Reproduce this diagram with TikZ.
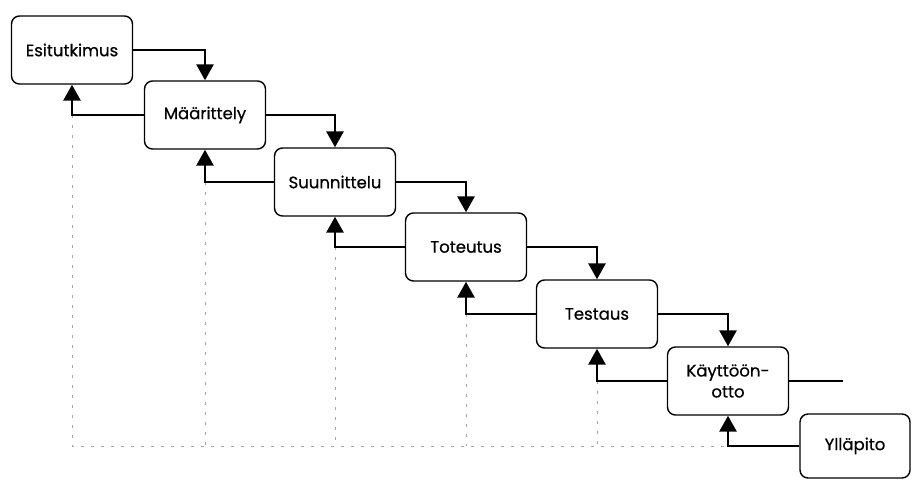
\documentclass[tikz,border=0pt]{standalone}
\usepackage{fontspec}
\setmainfont{Poppins}[FakeBold=0.6]
\usetikzlibrary{arrows.meta}
\tikzset{
  phase/.style={draw, rounded corners=8pt, line width=1.4pt,
    minimum width=121pt, minimum height=68pt, align=center,
    font=\fontsize{16.5}{21}\selectfont},
  flow/.style={line width=2.8pt, -{Triangle[width=17pt,length=16pt]}},
  feedback/.style={gray!70, line width=0.9pt, dash pattern=on 3pt off 7pt}
}
\begin{document}
\begin{tikzpicture}[x=1pt,y=-1pt]
      \useasboundingbox (0,0) rectangle (912,480);
      \draw
        (72,50) node[phase] (1){Esitutkimus}
        (205,115) node[phase] (2){Määrittely}
        (335,182) node[phase] (3){Suunnittelu}
        (466,247) node[phase] (4){Toteutus}
        (597,314) node[phase] (5){Testaus}
        (728,381) node[phase] (6){Käyttöön-\\otto}
        (855,446) node[phase, minimum width=110pt, minimum height=64pt] (7){Ylläpito};
      \coordinate (end) at (843,381);
      \coordinate (base) at (0,446);
      % feedback to every phase
      \begin{scope}[feedback]
        \draw (1.south |- 2.west) -- (1.south |- base) -- (6.south |- base);
        \draw (2.south |- 3.west) -- (2.south |- base);
        \draw (3.south |- 4.west) -- (3.south |- base);
        \draw (4.south |- 5.west) -- (4.south |- base);
        \draw (5.south |- 6.west) -- (5.south |- base);
      \end{scope}
      \begin{scope}[flow]
        \draw (1.east) -| (2.north);
        \draw (2.east) -| (3.north);
        \draw (3.east) -| (4.north);
        \draw (4.east) -| (5.north);
        \draw (5.east) -| (6.north);
        \draw (2.west) -| (1.south);
        \draw (3.west) -| (2.south);
        \draw (4.west) -| (3.south);
        \draw (5.west) -| (4.south);
        \draw (6.west) -| (5.south);
        \draw (7.west) -| (6.south);
      \end{scope}
      \draw[line width=2.8pt] (6.east) -- (end);
    \end{tikzpicture}
\end{document}
